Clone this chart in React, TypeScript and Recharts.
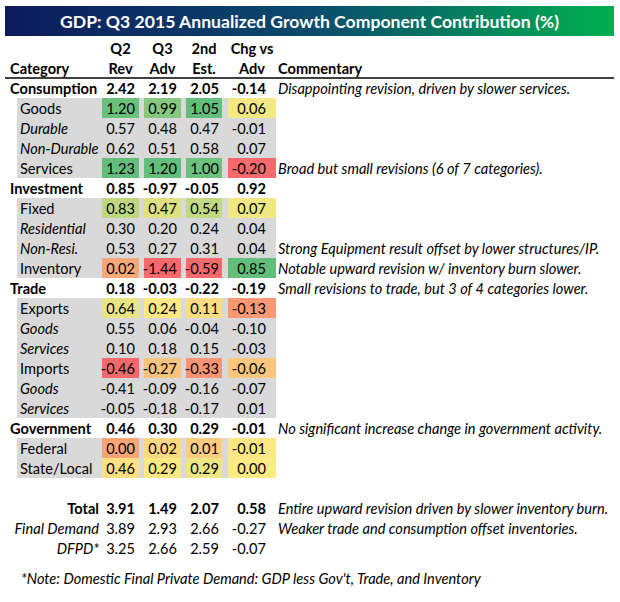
import { ScatterChart, Scatter, XAxis, YAxis, ReferenceLine } from "recharts";

// ---- data ----
const categories = [
  "Consumption", "Goods", "Durable", "Non-Durable", "Services",
  "Investment", "Fixed", "Residential", "Non-Resi.", "Inventory",
  "Trade", "Exports", "Goods", "Services", "Imports", "Goods", "Services",
  "Government", "Federal", "State/Local",
];
// 0 = group (bold), 1 = component (colour scaled), 2 = detail (italic)
const levels = [0, 1, 2, 2, 1, 0, 1, 2, 2, 1, 0, 1, 2, 2, 1, 2, 2, 0, 1, 1];
const q2Rev = [2.42, 1.2, 0.57, 0.62, 1.23, 0.85, 0.83, 0.3, 0.53, 0.02, 0.18, 0.64, 0.55, 0.1, -0.46, -0.41, -0.05, 0.46, 0.0, 0.46];
const q3Adv = [2.19, 0.99, 0.48, 0.51, 1.2, -0.97, 0.47, 0.2, 0.27, -1.44, -0.03, 0.24, 0.06, 0.18, -0.27, -0.09, -0.18, 0.3, 0.02, 0.29];
const secondEst = [2.05, 1.05, 0.47, 0.58, 1.0, -0.05, 0.54, 0.24, 0.31, -0.59, -0.22, 0.11, -0.04, 0.15, -0.33, -0.16, -0.17, 0.29, 0.01, 0.29];
const chgVsAdv = [-0.14, 0.06, -0.01, 0.07, -0.2, 0.92, 0.07, 0.04, 0.04, 0.85, -0.19, -0.13, -0.1, -0.03, -0.06, -0.07, 0.01, -0.01, -0.01, 0.0];
const commentary = [
  "Disappointing revision, driven by slower services.", "", "", "",
  "Broad but small revisions (6 of 7 categories).", "", "", "",
  "Strong Equipment result offset by lower structures/IP.",
  "Notable upward revision w/ inventory burn slower.",
  "Small revisions to trade, but 3 of 4 categories lower.", "", "", "", "", "", "",
  "No significant increase change in government activity.", "", "",
];

const totalLabels = ["Total", "Final Demand", "DFPD*"];
const totalQ2 = [3.91, 3.89, 3.25];
const totalQ3 = [1.49, 2.93, 2.66];
const total2nd = [2.07, 2.66, 2.59];
const totalChg = [0.58, -0.27, -0.07];
const totalComments = [
  "Entire upward revision driven by slower inventory burn.",
  "Weaker trade and consumption offset inventories.",
  "",
];

const TITLE = "GDP: Q3 2015 Annualized Growth Component Contribution (%)";
const NOTE = "*Note: Domestic Final Private Demand: GDP less Gov't, Trade, and Inventory";

// ---- layout ----
const W = 620;
const H = 602;
const FONT = "Lato, 'Open Sans', sans-serif";
const FS = 14.6;
const DY = 6;
const GRAY = "#d9d9d9";
const TOTAL_ROW = 21; // first totals row index
const NOTE_ROW = 24.5;

const COLS = [
  { head: ["Q2", "Rev"], values: q2Rev, totals: totalQ2, left: 102, right: 139, textRight: 135 },
  { head: ["Q3", "Adv"], values: q3Adv, totals: totalQ3, left: 144, right: 181, textRight: 177 },
  { head: ["2nd", "Est."], values: secondEst, totals: total2nd, left: 186, right: 222, textRight: 219 },
  { head: ["Chg vs", "Adv"], values: chgVsAdv, totals: totalChg, left: 228, right: 276, textRight: 266 },
];

// Excel-style 3 colour scale (min red, median yellow, max green)
const RED = [248, 105, 107];
const YEL = [255, 235, 132];
const GRN = [99, 190, 123];
function median(v: number[]) {
  const s = [...v].sort((a, b) => a - b);
  const m = Math.floor(s.length / 2);
  return s.length % 2 ? s[m] : (s[m - 1] + s[m]) / 2;
}
function scaleColor(v: number, vals: number[]) {
  const min = Math.min(...vals);
  const max = Math.max(...vals);
  const mid = median(vals);
  const mix = (a: number[], b: number[], t: number) =>
    a.map((c, i) => Math.round(c + (b[i] - c) * Math.max(0, Math.min(1, t))));
  const rgb = v <= mid ? mix(RED, YEL, (v - min) / (mid - min)) : mix(YEL, GRN, (v - mid) / (max - mid));
  return `rgb(${rgb.join(",")})`;
}

// ---- points ----
const bandRows = categories
  .map((c, i) => ({ x: 17, row: i, level: levels[i] }))
  .filter((d) => d.level > 0);

const labelRows = categories.map((c, i) => ({
  x: levels[i] === 0 ? 10 : 20,
  row: i,
  text: c,
  level: levels[i],
}));

const valueCells = COLS.flatMap((col) => {
  const scaled = col.values.filter((_, i) => levels[i] === 1);
  const body = col.values.map((v, i) => ({
    x: col.textRight,
    row: i,
    text: v.toFixed(2),
    bold: levels[i] === 0,
    fill: levels[i] === 1 ? scaleColor(v, scaled) : null,
    w: col.right - col.left,
    off: col.textRight - col.left,
  }));
  const tot = col.totals.map((v, i) => ({
    x: col.textRight,
    row: TOTAL_ROW + i,
    text: v.toFixed(2),
    bold: i === 0,
    fill: null,
    w: 0,
    off: 0,
  }));
  return [...body, ...tot];
});

const headerCells = COLS.flatMap((col) =>
  col.head.map((h, j) => ({ x: (col.left + col.right) / 2, row: -2 + j, text: h }))
).concat([
  { x: 10, row: -1, text: "Category" },
  { x: 278, row: -1, text: "Commentary" },
]);

const commentRows = commentary
  .map((t, i) => ({ x: 278, row: i, text: t }))
  .concat(totalComments.map((t, i) => ({ x: 278, row: TOTAL_ROW + i, text: t })))
  .filter((d) => d.text);

const totalLabelRows = totalLabels.map((t, i) => ({ x: 99, row: TOTAL_ROW + i, text: t, bold: i === 0 }));

const noteRow = [{ x: 21, row: NOTE_ROW, text: NOTE }];

// ---- shapes ----
const Band = (p: any) => (
  <rect x={p.cx} y={p.cy - 10} width={276 - 17} height={20} fill={GRAY} />
);

const Label = (p: any) => (
  <text x={p.cx} y={p.cy} dy={DY} fontFamily={FONT} fontSize={FS} fill="#000"
    fontWeight={p.payload.level === 0 ? 700 : 400}
    fontStyle={p.payload.level === 2 ? "italic" : "normal"}>
    {p.payload.text}
  </text>
);

const ValueCell = (p: any) => {
  const d = p.payload;
  return (
    <g>
      {d.fill && <rect x={p.cx - d.off} y={p.cy - 10} width={d.w} height={20} fill={d.fill} />}
      <text x={p.cx} y={p.cy} dy={DY} textAnchor="end" fontFamily={FONT} fontSize={FS}
        fontWeight={d.bold ? 700 : 400} fill="#000">
        {d.text}
      </text>
    </g>
  );
};

const Header = (p: any) => {
  const left = p.payload.x < 100 || p.payload.x > 277;
  return (
    <text x={p.cx} y={p.cy} dy={DY} textAnchor={left ? "start" : "middle"} fontFamily={FONT}
      fontSize={FS} fontWeight={700} fill="#000">
      {p.payload.text}
    </text>
  );
};

const Comment = (p: any) => (
  <text x={p.cx} y={p.cy} dy={DY} fontFamily={FONT} fontSize={FS} fontStyle="italic" fill="#000">
    {p.payload.text}
  </text>
);

const TotalLabel = (p: any) => (
  <text x={p.cx} y={p.cy} dy={DY} textAnchor="end" fontFamily={FONT} fontSize={FS} fill="#000"
    fontWeight={p.payload.bold ? 700 : 400} fontStyle={p.payload.bold ? "normal" : "italic"}>
    {p.payload.text}
  </text>
);

export default function App() {
  return (
    <div style={{ position: "relative", width: W, height: H, background: "#fff" }}>
      <style>{`body{margin:0}`}</style>
      <div
        style={{
          position: "absolute", left: 5, top: 6, width: 609, height: 30,
          background: "linear-gradient(90deg, #0c1a5c 0%, #0b4a6e 50%, #00b050 100%)",
          color: "#fff", fontFamily: FONT, fontWeight: 700, fontSize: 17.6,
          display: "flex", alignItems: "center", justifyContent: "center",
        }}
      >
        {TITLE}
      </div>
      <ScatterChart width={W} height={H} margin={{ top: 0, right: 0, bottom: 0, left: 0 }}>
        <XAxis type="number" dataKey="x" domain={[0, W]} hide />
        <YAxis type="number" dataKey="row" domain={[-4.4, 25.7]} reversed hide />
        <Scatter data={bandRows} shape={Band} isAnimationActive={false} />
        <Scatter data={valueCells} shape={ValueCell} isAnimationActive={false} />
        <Scatter data={labelRows} shape={Label} isAnimationActive={false} />
        <Scatter data={headerCells} shape={Header} isAnimationActive={false} />
        <Scatter data={commentRows} shape={Comment} isAnimationActive={false} />
        <Scatter data={totalLabelRows} shape={TotalLabel} isAnimationActive={false} />
        <Scatter data={noteRow} shape={Comment} isAnimationActive={false} />
        <ReferenceLine segment={[{ x: 5, y: -0.5 }, { x: 614, y: -0.5 }]} stroke="#000" strokeWidth={1.3} />
      </ScatterChart>
    </div>
  );
}
